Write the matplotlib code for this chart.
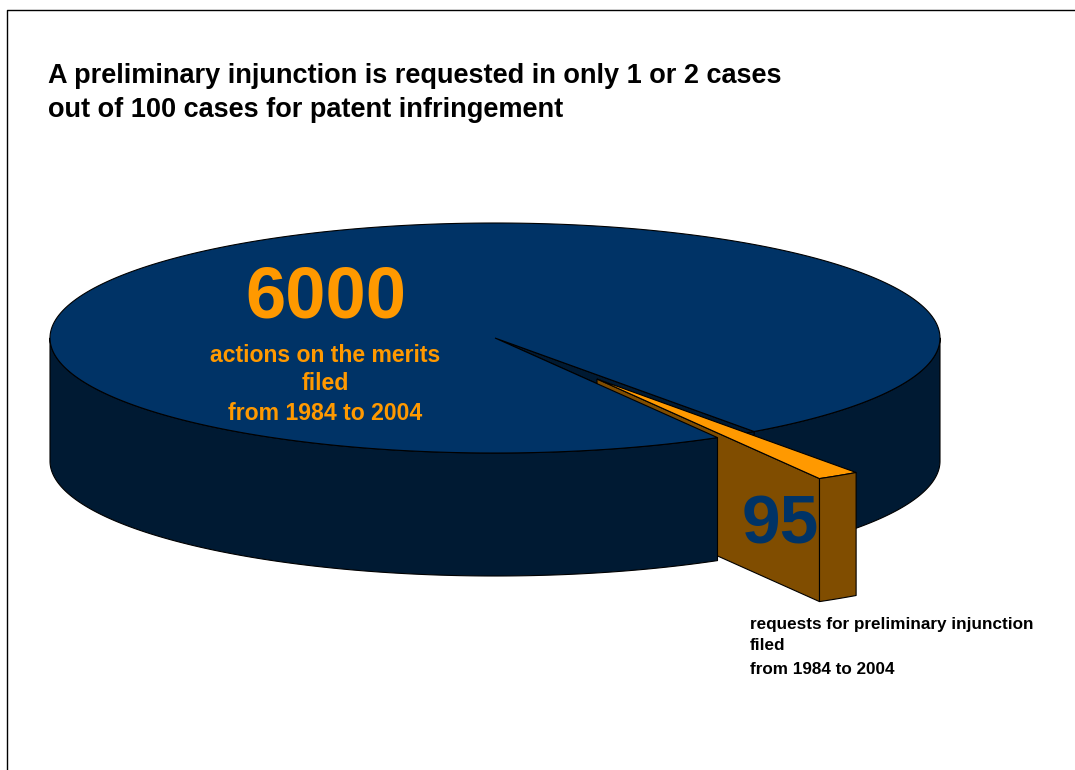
import numpy as np
import matplotlib
matplotlib.use("Agg")
import matplotlib.pyplot as plt

plt.rcParams['font.family'] = ['Liberation Sans', 'DejaVu Sans']

# data
merits_count = 6000
pi_count = 95
title_lines = ["A preliminary injunction is requested in only 1 or 2 cases",
               "out of 100 cases for patent infringement"]
merits_lines = ["actions on the merits", "filed", "from 1984 to 2004"]
pi_lines = ["requests for preliminary injunction", "filed", "from 1984 to 2004"]

navy = "#003366"
dark = "#001a33"
orange = "#ff9900"
brown = "#804d00"

# pie geometry, in pixels
cx, cy = 495, 338
rx, ry = 445, 115
depth = 123
start = -60.0  # angle of front edge of the small slice
expl = (102, 41)

pi_span = 360 * pi_count / (merits_count + pi_count)
end = start + pi_span


def arc(a0, a1, dx=0, dy=0):
    t = np.radians(np.linspace(a0, a1, 300))
    return cx + dx + rx * np.cos(t), cy + dy - ry * np.sin(t)


fig = plt.figure(figsize=(10.75, 7.7), dpi=100)
ax = fig.add_axes([0, 0, 1, 1])
ax.set_xlim(0, 1075)
ax.set_ylim(770, 0)
ax.axis("off")

# frame of the slide
ax.plot([7, 7, 1075], [770, 10, 10], color="black", lw=1, zorder=1)


def rim(a0, a1, color, z, dx=0, dy=0, h=depth):
    x, y = arc(a0, a1, dx, dy)
    ax.fill(np.r_[x, x[::-1]], np.r_[y, y[::-1] + h], facecolor=color,
            edgecolor="black", lw=0.8, zorder=z, joinstyle="round")


# right rim of the big pie, behind everything
rim(end, 0, dark, 2)
# short bit of wall seen through the gap, the slice hides its lower end
rim(start, end, dark, 2, h=14)

# dark inside of the gap
xg, yg = arc(start, end)
ax.fill(np.r_[cx, xg], np.r_[cy, yg], facecolor=dark, edgecolor="black", lw=0.8, zorder=3)

# inner wall of the slice
px, py = cx + expl[0], cy + expl[1]
xs, ys = arc(start, end, *expl)
ax.fill([px, xs[0], xs[0], px], [py, ys[0], ys[0] + depth, py + depth],
        facecolor=brown, edgecolor="black", lw=0.8, zorder=4)

# top and left rim of the big pie
rim(180, 360 + start, dark, 5)
x, y = arc(end, 360 + start)
ax.fill(np.r_[cx, x], np.r_[cy, y], facecolor=navy, edgecolor="black", lw=0.8, zorder=6)

# top and end of the slice
ax.fill(np.r_[px, xs], np.r_[py, ys], facecolor=orange, edgecolor="black", lw=0.8, zorder=7)
rim(start, end, brown, 7, *expl)

# texts
for line, y0 in zip(title_lines, [76, 110]):
    ax.text(48, y0, line, fontsize=19.5, fontweight="bold", color="black",
            ha="left", va="center", zorder=10)

ax.text(326, 299, str(merits_count), fontsize=52, fontweight="bold", color=orange,
        ha="center", va="center", zorder=10)
for line, y0 in zip(merits_lines, [355, 384, 414]):
    ax.text(325, y0, line, fontsize=16.6, fontweight="bold", color=orange,
            ha="center", va="center", zorder=10)

ax.text(780, 525, str(pi_count), fontsize=50, fontweight="bold", color=navy,
        ha="center", va="center", zorder=10)
for line, y0 in zip(pi_lines, [624, 646, 669]):
    ax.text(750, y0, line, fontsize=12.3, fontweight="bold", color="black",
            ha="left", va="center", zorder=10)

fig.savefig("out.png", dpi=100)
